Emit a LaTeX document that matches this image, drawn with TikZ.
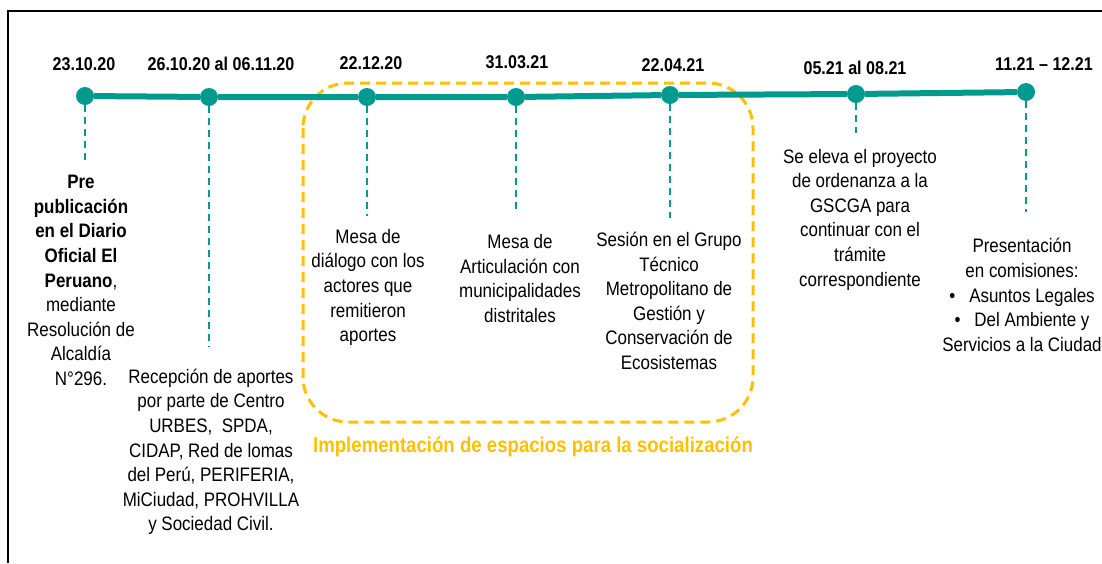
\documentclass[tikz,border=0pt]{standalone}
\usepackage{fontspec}
\setmainfont{Liberation Sans}[FakeStretch=0.87]
\usetikzlibrary{positioning}
\definecolor{verde}{RGB}{0,155,142}
\definecolor{amarillo}{RGB}{255,192,0}

\begin{document}
\begin{tikzpicture}[x=1pt,y=-1pt,
    hito/.style={circle,fill=verde,inner sep=0pt,minimum size=18pt},
    fecha/.style={font=\fontsize{18.5}{22}\selectfont\bfseries},
    texto/.style={align=center,inner sep=0pt,font=\fontsize{19.5}{24.6}\selectfont},
    guia/.style={verde,line width=1.3pt,dash pattern=on 7pt off 5pt},
    linea/.style={verde,line width=6pt},
    caja/.style={amarillo,line width=3pt,rounded corners=45pt,dash pattern=on 10pt off 6pt}]
        \useasboundingbox (0,0) rectangle (1102,563);

        % marco
        \draw[line width=2pt] (8,563) -- (8,11) -- (1102,11);

        % espacios de socializacion
        \draw[caja] (303,83) rectangle (753,422);
        \node[font=\fontsize{21.4}{26}\selectfont\bfseries,text=amarillo] (socializ) at (533,447)
            {Implementación de espacios para la socialización};

        % hitos sobre la linea de tiempo
        \node[hito] (h1) at (85,96) {};
        \node[hito] (h2) at (209,97) {};
        \node[hito] (h3) at (367,97) {};
        \node[hito] (h4) at (516,97) {};
        \node[hito] (h5) at (670,95) {};
        \node[hito] (h6) at (856,94) {};
        \node[hito] (h7) at (1026,92) {};

        \draw[linea] (h1) -- (h2) -- (h3) -- (h4) -- (h5) -- (h6) -- (h7); % linea de tiempo

        % fechas
        \node[fecha] (fecha1) at (84,64) {23.10.20};
        \node[fecha] (fecha2) at (221,64) {26.10.20 al 06.11.20};
        \node[fecha] (fecha3) at (371,63) {22.12.20};
        \node[fecha] (fecha4) at (517,62) {31.03.21};
        \node[fecha] (fecha5) at (673,65) {22.04.21};
        \node[fecha] (fecha6) at (855,68) {05.21 al 08.21};
        \node[fecha] (fecha7) at (1044,64) {11.21 -- 12.21};

        % guias punteadas
        \coordinate (fin1) at (85,163);
        \coordinate (fin2) at (209,347);
        \coordinate (fin3) at (367,216);
        \coordinate (fin4) at (516,212);
        \coordinate (fin5) at (670,218);
        \coordinate (fin6) at (856,133);
        \coordinate (fin7) at (1026,212);
        \foreach \i in {1,...,7}
            \draw[guia] (h\i) -- (fin\i);

        % descripciones
        \node[texto] (txt1) at (81,280.5) {\textbf{Pre}\\\textbf{publicación}\\\textbf{en el Diario}\\\textbf{Oficial El}\\\textbf{Peruano},\\mediante\\Resolución de\\Alcaldía\\N°296.};
        \node[texto] (txt2) at (211,452) {Recepción de aportes\\por parte de Centro\\URBES,\ \ SPDA,\\CIDAP, Red de lomas\\del Perú, PERIFERIA,\\MiCiudad, PROHVILLA\\y Sociedad Civil.};
        \node[texto] (txt3) at (368,287.5) {Mesa de\\diálogo con los\\actores que\\remitieron\\aportes};
        \node[texto] (txt4) at (520,278.5) {Mesa de\\Articulación con\\municipalidades\\distritales};
        \node[texto] (txt5) at (669,301) {Sesión en el Grupo\\Técnico\\Metropolitano de\\Gestión y\\Conservación de\\Ecosistemas};
        \node[texto] (txt6) at (860,219.5) {Se eleva el proyecto\\de ordenanza a la\\GSCGA para\\continuar con el\\trámite\\correspondiente};
        \node[texto] (txt7) at (1022,295) {Presentación\\en comisiones:\\•\hspace{14pt}Asuntos Legales\\•\hspace{14pt}Del Ambiente y\\Servicios a la Ciudad};
    \end{tikzpicture}
\end{document}
